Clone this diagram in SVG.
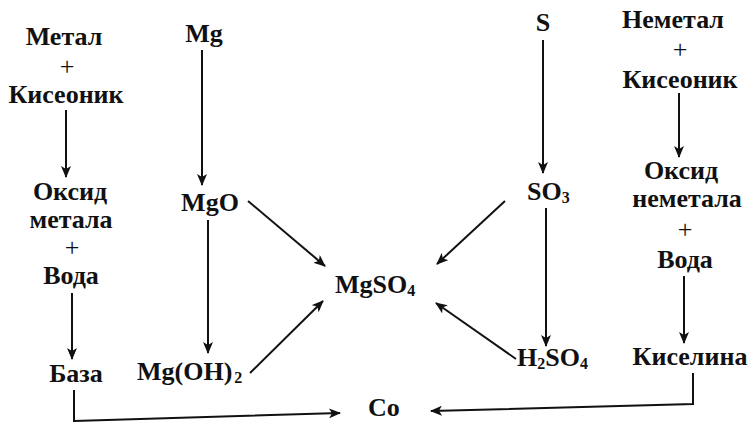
<svg xmlns="http://www.w3.org/2000/svg" width="748" height="422" viewBox="0 0 748 422">
<style>
text{font-family:"Liberation Serif","Times New Roman",serif;font-size:26px;font-weight:bold;fill:#111}
.c{text-anchor:middle}
.p{font-weight:normal;font-size:26px}
.s{font-size:16px}
.ln{stroke:#111;stroke-width:2;fill:none}
</style>
<defs>
<marker id="ah" viewBox="0 0 12 10" refX="11" refY="5" markerWidth="12" markerHeight="10" markerUnits="userSpaceOnUse" orient="auto">
<path d="M0,0 L12,5 L0,10 L3,5 Z" fill="#111"/>
</marker>
</defs>
<rect width="748" height="422" fill="#fff"/>
<g id="connectors">
<line class="ln" x1="66" y1="110" x2="66" y2="177" marker-end="url(#ah)"/>
<line class="ln" x1="72" y1="293" x2="72" y2="359" marker-end="url(#ah)"/>
<polyline class="ln" points="74,390 74,421 340,413" marker-end="url(#ah)"/>
<line class="ln" x1="202" y1="50" x2="202" y2="185" marker-end="url(#ah)"/>
<line class="ln" x1="208" y1="220" x2="208" y2="353" marker-end="url(#ah)"/>
<line class="ln" x1="248" y1="201" x2="325" y2="266" marker-end="url(#ah)"/>
<line class="ln" x1="250" y1="373" x2="323" y2="301" marker-end="url(#ah)"/>
<line class="ln" x1="543" y1="40" x2="543" y2="173" marker-end="url(#ah)"/>
<line class="ln" x1="546" y1="208" x2="546" y2="346" marker-end="url(#ah)"/>
<line class="ln" x1="505" y1="201" x2="437" y2="264" marker-end="url(#ah)"/>
<line class="ln" x1="516" y1="359" x2="436" y2="303" marker-end="url(#ah)"/>
<line class="ln" x1="679" y1="93" x2="679" y2="157" marker-end="url(#ah)"/>
<line class="ln" x1="684" y1="276" x2="684" y2="343" marker-end="url(#ah)"/>
<polyline class="ln" points="693,373 693,404 431,411" marker-end="url(#ah)"/>
</g>
<g id="metal">
<text class="c" x="64" y="45">Метал</text>
<text class="c p" x="67" y="75">+</text>
<text class="c" x="66" y="103">Кисеоник</text>
</g>
<g id="oxide-metal">
<text class="c" x="70" y="200">Оксид</text>
<text class="c" x="71" y="228">метала</text>
<text class="c p" x="72" y="256">+</text>
<text class="c" x="71" y="284">Вода</text>
</g>
<g id="base"><text class="c" x="76" y="382">База</text></g>
<g id="mg"><text class="c" x="204" y="42">Mg</text></g>
<g id="mgo"><text class="c" x="210" y="211">MgO</text></g>
<g id="mgoh2"><text x="137" y="380">Mg(OH)<tspan class="s" dx="2" dy="3">2</tspan></text></g>
<g id="mgso4"><text x="335" y="293">MgSO<tspan class="s" dy="3">4</tspan></text></g>
<g id="s"><text class="c" x="543" y="31">S</text></g>
<g id="so3"><text x="527" y="200">SO<tspan class="s" dy="3">3</tspan></text></g>
<g id="h2so4"><text x="517" y="366">H<tspan class="s" dy="3">2</tspan><tspan dy="-3">SO</tspan><tspan class="s" dy="3">4</tspan></text></g>
<g id="co"><text x="368" y="416">Co</text></g>
<g id="nonmetal">
<text class="c" x="673" y="28">Неметал</text>
<text class="c p" x="680" y="58">+</text>
<text class="c" x="680" y="88">Кисеоник</text>
</g>
<g id="oxide-nonmetal">
<text class="c" x="681" y="179">Оксид</text>
<text class="c" x="687" y="207">неметала</text>
<text class="c p" x="685" y="238">+</text>
<text class="c" x="685" y="268">Вода</text>
</g>
<g id="acid"><text class="c" x="690" y="365">Киселина</text></g>
</svg>
